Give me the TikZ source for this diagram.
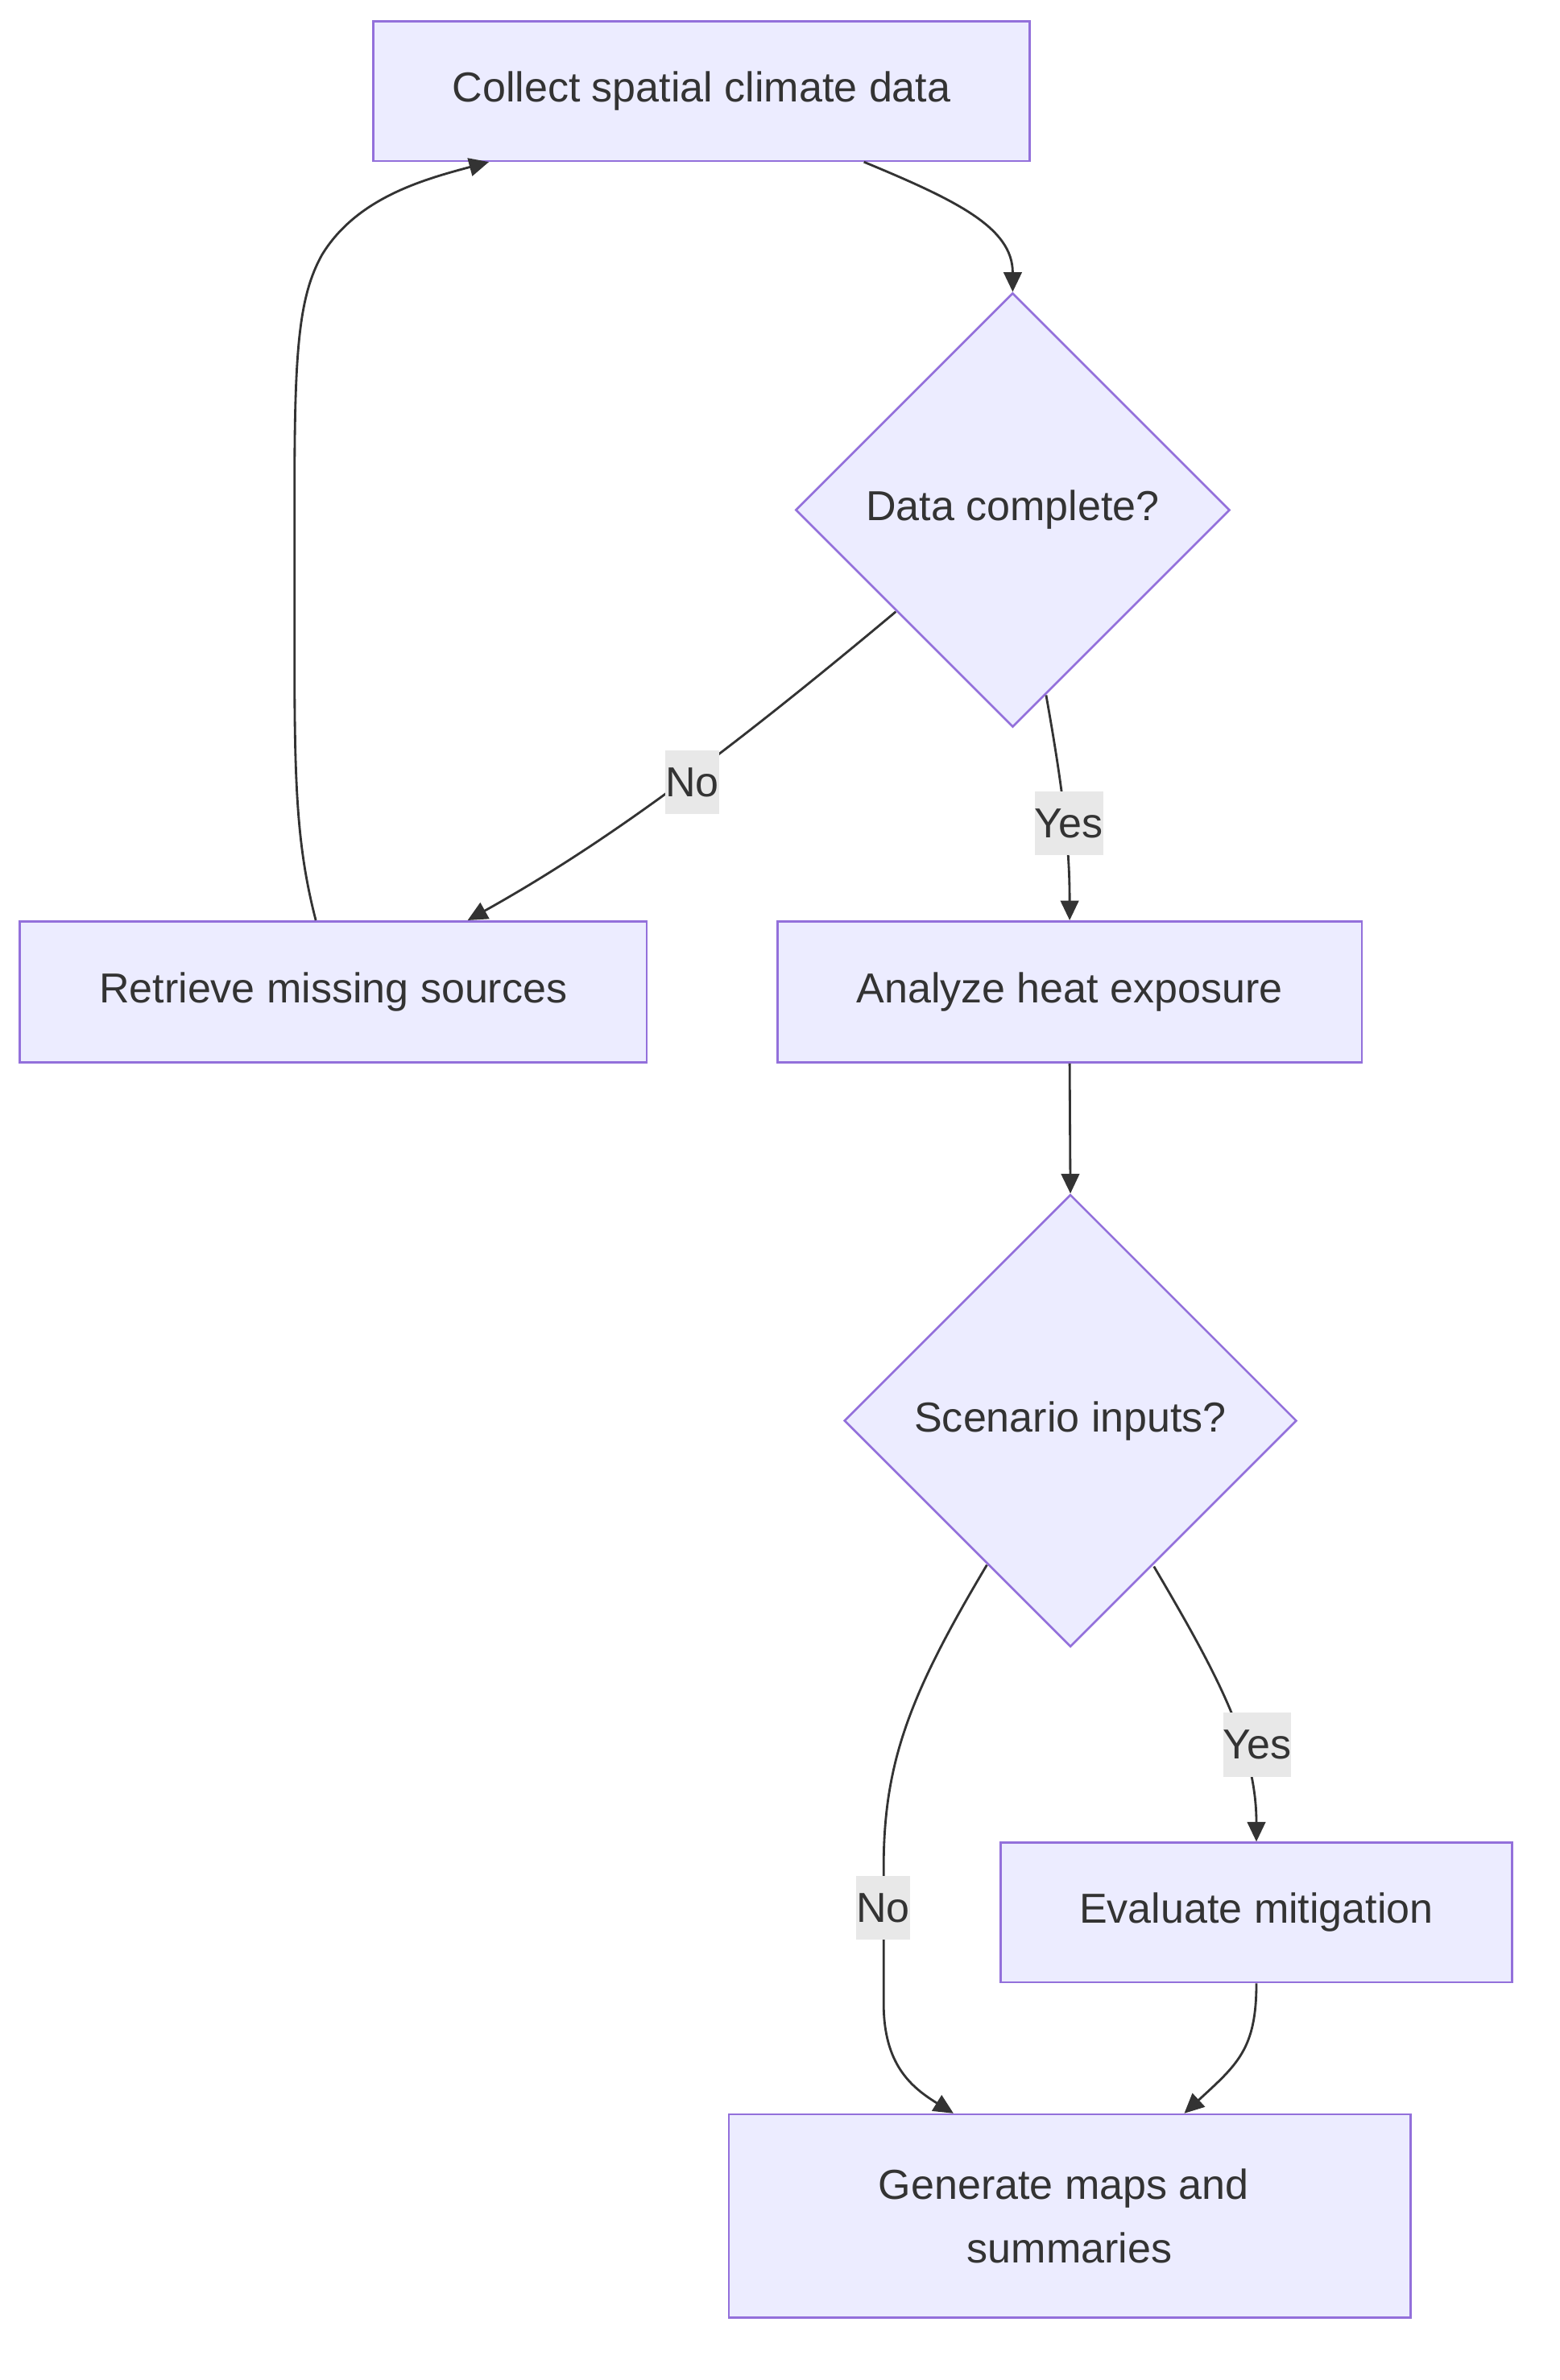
\documentclass[tikz,border=0pt]{standalone}
\usepackage{fontspec}
\setmainfont{Liberation Sans}
\usetikzlibrary{shapes.geometric,arrows.meta,calc}
\definecolor{nodefill}{HTML}{ECECFF}
\definecolor{nodeborder}{HTML}{9370DB}
\definecolor{edgecol}{HTML}{333333}
\definecolor{labelbg}{HTML}{E8E8E8}
\begin{document}
\begin{tikzpicture}[x=1pt,y=-1pt,
  box/.style={rectangle,draw=nodeborder,fill=nodefill,line width=1.4pt,inner sep=0pt,
    text=edgecol,font=\fontsize{27.6}{42}\selectfont,align=center},
  dia/.style={diamond,aspect=1,draw=nodeborder,fill=nodefill,line width=1.4pt,inner sep=0pt,
    text=edgecol,font=\fontsize{27.6}{42}\selectfont},
  edge/.style={draw=edgecol,line width=1.5pt,-{Triangle[length=13pt,width=12pt]}},
  lbl/.style={fill=labelbg,text=edgecol,inner xsep=0pt,inner ysep=0pt,minimum height=42pt,
    font=\fontsize{27.6}{42}\selectfont}]
\useasboundingbox (0,0) rectangle (1027,1568);
\fill[white] (0,0) rectangle (1027,1568);

\node[box,minimum width=432pt,minimum height=92pt] (A) at (462,60) {Collect spatial climate data};
\node[dia,minimum width=286pt,minimum height=286pt] (B) at (667,336) {Data complete?};
\node[box,minimum width=413pt,minimum height=93pt] (C) at (219.5,653.5) {Retrieve missing sources};
\node[box,minimum width=385pt,minimum height=93pt] (D) at (704.5,653.5) {Analyze heat exposure};
\node[dia,minimum width=298pt,minimum height=298pt] (E) at (705,936) {Scenario inputs?};
\node[box,minimum width=337pt,minimum height=92pt] (F) at (827.5,1260) {Evaluate mitigation};
\node[box,minimum width=449pt,minimum height=134pt] (G) at (704.5,1460) {Generate maps and\hspace*{7.7pt}\\summaries};

% edges
\draw[edge] ([xshift=107pt]A.south) .. controls (630,132) and (667,150) .. (B.north);
\draw[edge] ($(B.center)+(-77,67)$) .. controls (480,495) and (400,555) .. ([xshift=88.5pt]C.north);
\draw[edge] ([xshift=-11.5pt]C.north) .. controls (196,560) and (194,520) .. (194,440) -- (194,320)
  .. controls (194,230) and (197,195) .. (212,168) .. controls (235,130) and (280,118) .. ([xshift=-140pt]A.south);
\draw[edge] ($(B.center)+(22,122)$) .. controls (701,525) and (704.5,560) .. (D.north);
\draw[edge] (D.south) -- (E.north);
\draw[edge] ($(E.center)+(55,96)$) .. controls (800,1100) and (827.5,1150) .. (F.north);
\draw[edge] ($(E.center)+(-55,95)$) .. controls (600,1115) and (582,1160) .. (582,1230) -- (582,1320)
  .. controls (582,1360) and (600,1375) .. ([xshift=-76.5pt]G.north);
\draw[edge] (F.south) .. controls (827.5,1350) and (815,1360) .. ([xshift=75.5pt]G.north);

% edge labels
\node[lbl] (l1) at (456,515.5) {No};
\node[lbl] (l2) at (704,542.5) {Yes};
\node[lbl] (l3) at (828,1149.5) {Yes};
\node[lbl] (l4) at (581.5,1257) {No};
\end{tikzpicture}
\end{document}
